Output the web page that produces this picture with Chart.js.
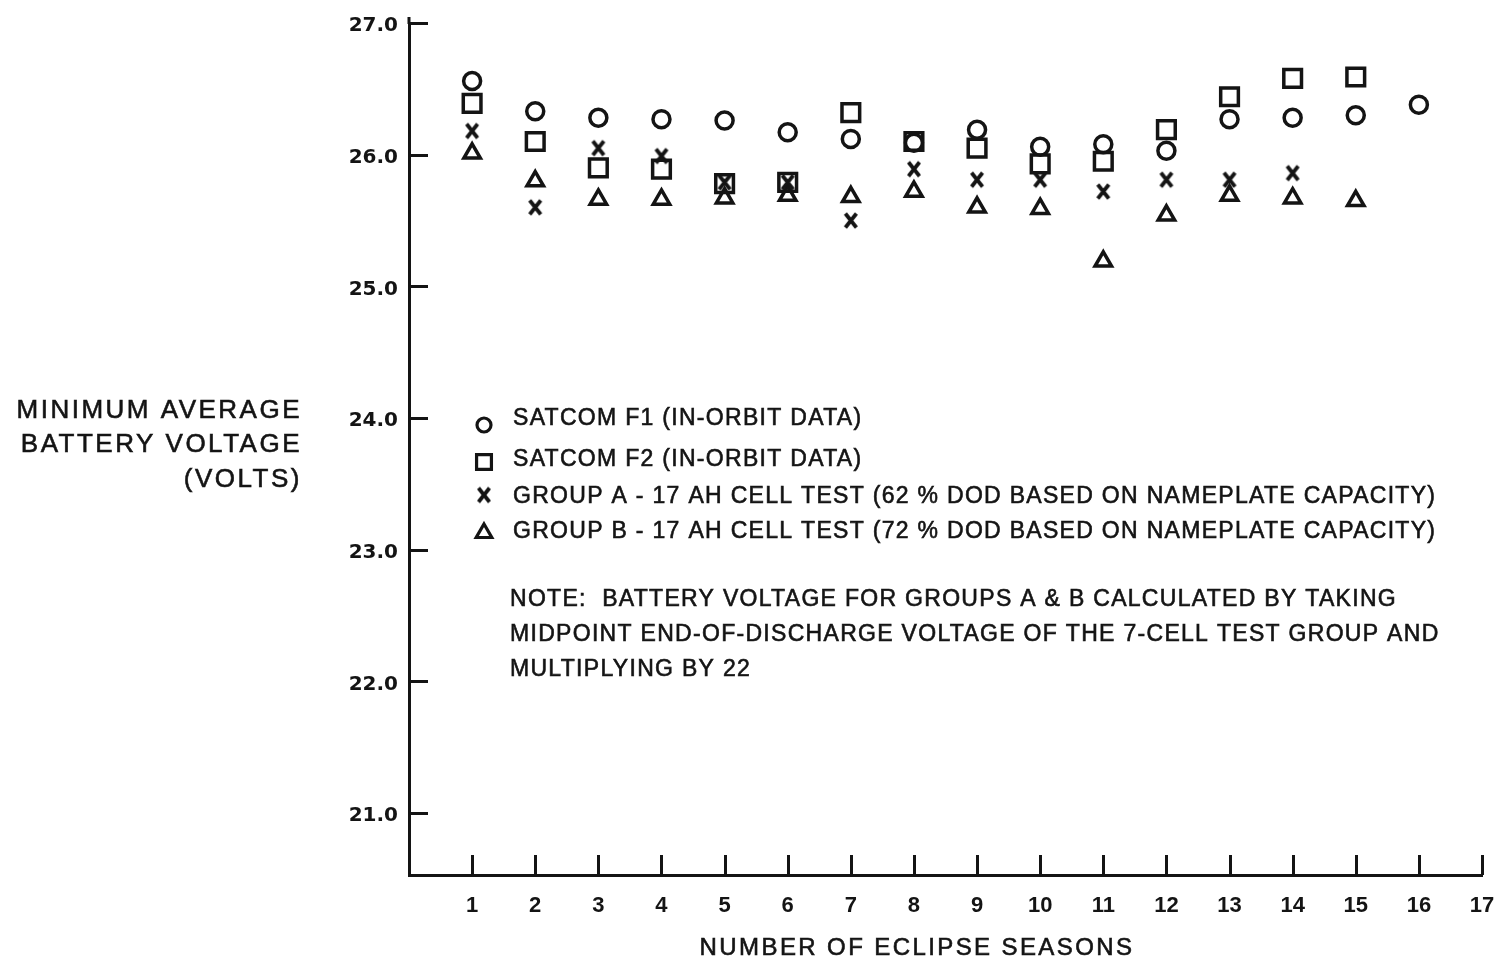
<!DOCTYPE html>
<html>
<head>
<meta charset="utf-8">
<script src="https://cdn.jsdelivr.net/npm/chart.js@4.4.1/dist/chart.umd.min.js"></script>
<style>
  html, body { margin: 0; padding: 0; background: #fff; }
  #wrap { width: 1501px; height: 963px; }
</style>
</head>
<body>
<div id="wrap"><canvas id="chartBateria" width="1501" height="963"></canvas></div>
<script>
// valores (volts por estacao de eclipse)
var seasons = [1, 2, 3, 4, 5, 6, 7, 8, 9, 10, 11, 12, 13, 14, 15, 16];
var satcomF1 = [26.56, 26.33, 26.28, 26.27, 26.26, 26.17, 26.12, 26.09, 26.19, 26.06, 26.08, 26.03, 26.27, 26.28, 26.30, 26.38];
var satcomF2 = [26.39, 26.10, 25.90, 25.89, 25.78, 25.79, 26.32, 26.10, 26.05, 25.93, 25.95, 26.19, 26.44, 26.58, 26.59];
var groupA = [26.18, 25.60, 26.05, 25.99, 25.79, 25.79, 25.50, 25.89, 25.81, 25.81, 25.72, 25.81, 25.81, 25.86];
var groupB = [26.01, 25.80, 25.66, 25.66, 25.67, 25.69, 25.68, 25.72, 25.60, 25.59, 25.19, 25.54, 25.69, 25.67, 25.65];

var xTicks = [1, 2, 3, 4, 5, 6, 7, 8, 9, 10, 11, 12, 13, 14, 15, 16, 17];
var yTicks = [21, 22, 23, 24, 25, 26, 27];

var legendLabels = [
  'SATCOM F1 (IN-ORBIT DATA)',
  'SATCOM F2 (IN-ORBIT DATA)',
  'GROUP A - 17 AH CELL TEST (62 % DOD BASED ON NAMEPLATE CAPACITY)',
  'GROUP B - 17 AH CELL TEST (72 % DOD BASED ON NAMEPLATE CAPACITY)'
];
var noteLines = [
  'NOTE:  BATTERY VOLTAGE FOR GROUPS A & B CALCULATED BY TAKING',
  'MIDPOINT END-OF-DISCHARGE VOLTAGE OF THE 7-CELL TEST GROUP AND',
  'MULTIPLYING BY 22'
];
var yTitle = ['MINIMUM AVERAGE', 'BATTERY VOLTAGE', '(VOLTS)'];
var xTitle = 'NUMBER OF ECLIPSE SEASONS';

var tinta = '#141414';

function pares(valores) {
  return valores.map(function (v, i) { return { x: seasons[i], y: v }; });
}

// marcador "x" desenhado a mao
var marcaX = document.createElement('canvas');
marcaX.width = 16;
marcaX.height = 19;
var mx = marcaX.getContext('2d');
mx.strokeStyle = tinta;
mx.lineWidth = 3.8;
mx.beginPath();
mx.moveTo(2.5, 2.5); mx.lineTo(13.5, 16.5);
mx.moveTo(13.5, 2.5); mx.lineTo(2.5, 16.5);
mx.stroke();

var legendSizes = [7, 10.5, 0, 9];

// texto um pouco mais grosso, como na copia impressa
function escreve(ctx, txt, x, y) {
  ctx.fillText(txt, x, y);
  ctx.strokeText(txt, x, y);
}

var extras = {
  id: 'extras',
  afterDraw: function (chart) {
    var ctx = chart.ctx;
    var area = chart.chartArea;
    var sx = chart.scales.x, sy = chart.scales.y;
    ctx.save();
    ctx.strokeStyle = tinta;
    ctx.fillStyle = tinta;

    // marcas para dentro
    ctx.lineWidth = 3;
    ctx.beginPath();
    yTicks.forEach(function (v) {
      var y = Math.round(sy.getPixelForValue(v)) + 0.5;
      ctx.moveTo(area.left, y);
      ctx.lineTo(area.left + 19, y);
    });
    xTicks.forEach(function (v) {
      var x = Math.round(sx.getPixelForValue(v)) + 0.5;
      ctx.moveTo(x, area.bottom);
      ctx.lineTo(x, area.bottom - 20);
    });
    ctx.moveTo(area.left, area.top + 1);
    ctx.lineTo(area.left, area.top - 6);
    ctx.stroke();

    ctx.lineWidth = 0.6;
    ctx.textBaseline = 'alphabetic';

    // titulo do eixo y
    ctx.font = '26px "Liberation Sans", Arial, sans-serif';
    ctx.letterSpacing = '2.5px';
    ctx.textAlign = 'right';
    [409, 443, 478].forEach(function (y, i) {
      escreve(ctx, yTitle[i], 302, y + 9);
    });

    // titulo do eixo x
    ctx.font = '24px "Liberation Sans", Arial, sans-serif';
    ctx.letterSpacing = '2.4px';
    ctx.textAlign = 'center';
    escreve(ctx, xTitle, 917, 946 + 8.5);

    // legenda
    ctx.font = '23px "Liberation Sans", Arial, sans-serif';
    ctx.letterSpacing = '1.3px';
    ctx.textAlign = 'left';
    var textY = [417, 458, 495, 530];
    var markY = [425, 462, 495, 533];
    chart.data.datasets.forEach(function (ds, i) {
      ctx.save();
      ctx.lineWidth = 3.2;
      ctx.fillStyle = 'rgba(0,0,0,0)';
      Chart.helpers.drawPoint(ctx, {
        pointStyle: ds.pointStyle,
        rotation: 0,
        radius: legendSizes[i],
        borderWidth: 3.2
      }, 484, markY[i]);
      ctx.restore();
      escreve(ctx, ds.label, 513, textY[i] + 8);
    });

    // nota
    [598, 633, 668].forEach(function (y, i) {
      escreve(ctx, noteLines[i], 510, y + 8);
    });
    ctx.restore();
  }
};

var grafico = new Chart(document.getElementById('chartBateria').getContext('2d'), {
  type: 'scatter',
  data: {
    datasets: [
      {
        label: legendLabels[0],
        data: pares(satcomF1),
        pointStyle: 'circle',
        pointRadius: 8.5,
        borderWidth: 3.5,
        borderColor: tinta,
        backgroundColor: 'rgba(0,0,0,0)'
      },
      {
        label: legendLabels[1],
        data: pares(satcomF2),
        pointStyle: 'rect',
        pointRadius: 12.5,
        borderWidth: 3.5,
        borderColor: tinta,
        backgroundColor: 'rgba(0,0,0,0)'
      },
      {
        label: legendLabels[2],
        data: pares(groupA),
        pointStyle: marcaX,
        pointRadius: 8,
        borderWidth: 0,
        borderColor: tinta,
        backgroundColor: 'rgba(0,0,0,0)'
      },
      {
        label: legendLabels[3],
        data: pares(groupB),
        pointStyle: 'triangle',
        pointRadius: 9.5,
        borderWidth: 3.5,
        borderColor: tinta,
        backgroundColor: 'rgba(0,0,0,0)'
      }
    ]
  },
  options: {
    responsive: false,
    animation: false,
    devicePixelRatio: 1,
    layout: {
      padding: { left: 0, top: 21, right: 19, bottom: 0 }
    },
    plugins: {
      legend: { display: false },
      tooltip: { enabled: false }
    },
    scales: {
      x: {
        type: 'linear',
        min: 0,
        max: 17,
        afterBuildTicks: function (s) {
          s.ticks = xTicks.map(function (v) { return { value: v }; });
        },
        afterFit: function (s) {
          s.height = 88;
          s.paddingLeft = 0;
          s.paddingRight = 0;
        },
        grid: { display: false, drawTicks: false },
        border: { display: true, color: tinta, width: 3 },
        ticks: {
          autoSkip: false,
          maxRotation: 0,
          padding: 18,
          color: tinta,
          font: { family: '"Liberation Sans", Arial, sans-serif', size: 22, weight: 'bold' },
          callback: function (v) { return String(v); }
        }
      },
      y: {
        type: 'linear',
        min: 20.53,
        max: 27,
        afterBuildTicks: function (s) {
          s.ticks = yTicks.map(function (v) { return { value: v }; });
        },
        afterFit: function (s) { s.width = 409; },
        grid: { display: false, drawTicks: false },
        border: { display: true, color: tinta, width: 3 },
        ticks: {
          padding: 11,
          labelOffset: 3,
          color: tinta,
          font: { family: '"DejaVu Sans", sans-serif', size: 20, weight: 'bold' },
          callback: function (v) { return v.toFixed(1); }
        }
      }
    }
  },
  plugins: [extras]
});
</script>
</body>
</html>
